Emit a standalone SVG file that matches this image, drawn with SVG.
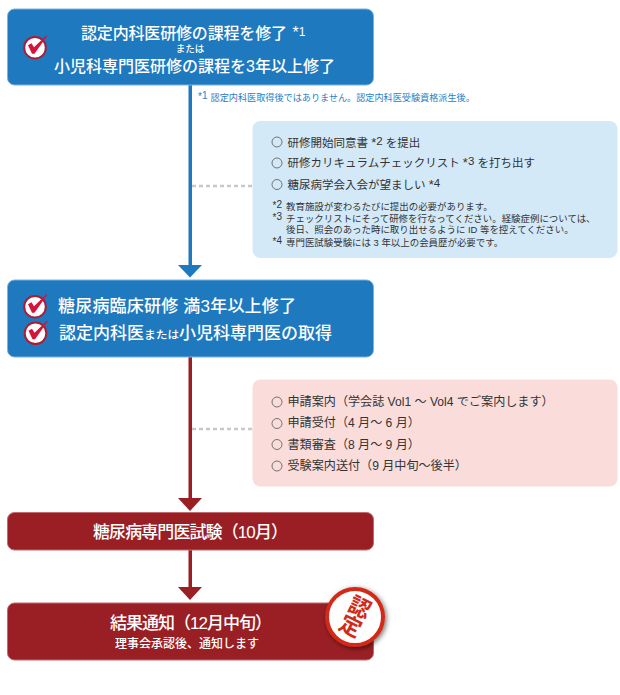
<svg xmlns="http://www.w3.org/2000/svg" width="620" height="695" viewBox="0 0 620 695">
<style>
text{font-family:"Liberation Sans","Noto Sans CJK JP",sans-serif;}
.w{fill:#fff;font-weight:500;font-size:17px;}
.d{fill:#333;font-size:11.5px;}
.n{fill:#333;font-size:9.45px;}
.s{fill:#333;font-size:10px;}
.p{fill:#333;font-size:12.1px;}
.c{fill:none;stroke:#555;stroke-width:.8;}
.blue{fill:#1e79bf;stroke:#7db3dc;stroke-width:1;}
.red{fill:#9a1f25;stroke:#c06a6e;stroke-width:1;}
</style>
<defs>
<filter id="sh" x="-30%" y="-30%" width="170%" height="170%"><feDropShadow dx="1.500" dy="1.500" stdDeviation="2.500" flood-color="#000" flood-opacity=".55"/></filter>
<g id="chk">
<circle cx="0" cy="0" r="10.800" fill="#fff" stroke="#a81f35" stroke-width="2"/>
<path d="M-7 -2.500L-3.500 -4.500L-1 -.5L11.500 -12.500L12.300 -12L-.5 6L-3 6Z" fill="#d3143c"/>
</g>
</defs>
<g id="connectors">
<rect x="188.500" y="85" width="3.500" height="181" fill="#1e79bf"/>
<path d="M178 265H202L190 277.500Z" fill="#1e79bf"/>
<rect x="188.500" y="357" width="3.500" height="142" fill="#9a1f25"/>
<path d="M178 498H202L190 511Z" fill="#9a1f25"/>
<rect x="188.500" y="550" width="3.500" height="38" fill="#9a1f25"/>
<path d="M178 587H202L190 600Z" fill="#9a1f25"/>
<path d="M192 186H252M192 429H252" fill="none" stroke="#c8c8c8" stroke-width="2.500" stroke-dasharray="4 3"/>
</g>
<g id="node-1">
<rect class="blue" x="7.500" y="9" width="366" height="76" rx="7"/>
<use href="#chk" x="35" y="47.700"/>
<text class="w" x="81" y="38.500" style="font-size:16px" textLength="206">認定内科医研修の課程を修了</text>
<text class="w" x="292.500" y="38" style="font-size:16px">*<tspan style="font-size:12px" dy="-2.500">1</tspan></text>
<text class="w" x="190" y="52" text-anchor="middle" style="font-size:9.500px">または</text>
<text class="w" x="54" y="71.500" style="font-size:16px" textLength="281">小児科専門医研修の課程を3年以上修了</text>
</g>
<g id="note-1">
<text x="198" y="100" fill="#2a80c4" font-size="10">*<tspan dy="-1.500">1</tspan></text>
<text x="210.500" y="100.500" fill="#2a80c4" font-size="9.150">認定内科医取得後ではありません。認定内科医受験資格派生後。</text>
</g>
<g id="panel-1">
<rect x="252.500" y="121" width="365" height="137" rx="8" fill="#d3e9f8"/>
<circle class="c" cx="277" cy="142" r="5"/><circle class="c" cx="277" cy="163" r="5"/><circle class="c" cx="277" cy="184.500" r="5"/>
<text class="d" x="287.500" y="146.500">研修開始同意書 <tspan font-size="13">*</tspan><tspan font-size="11.500" dy="-2">2</tspan><tspan dy="2"> を提出</tspan></text>
<text class="d" x="287.500" y="167">研修カリキュラムチェックリスト <tspan font-size="13">*</tspan><tspan font-size="11.500" dy="-2">3</tspan><tspan dy="2"> を打ち出す</tspan></text>
<text class="d" x="287.500" y="188.500">糖尿病学会入会が望ましい <tspan font-size="13">*</tspan><tspan font-size="11.500" dy="-2">4</tspan></text>
<text class="s" x="272.500" y="209">*<tspan dy="-1">2</tspan></text>
<text class="n" x="286" y="210">教育施設が変わるたびに提出の必要があります。</text>
<text class="s" x="272.500" y="220.500">*<tspan dy="-1">3</tspan></text>
<text class="n" x="286" y="221.500">チェックリストにそって研修を行なってください。経験症例については、</text>
<text class="n" x="286" y="233">後日、照会のあった時に取り出せるように ID 等を控えてください。</text>
<text class="s" x="272.500" y="245">*<tspan dy="-1">4</tspan></text>
<text class="n" x="286" y="246">専門医試験受験には 3 年以上の会員歴が必要です。</text>
</g>
<g id="node-2">
<rect class="blue" x="7.500" y="280" width="366" height="77" rx="7"/>
<use href="#chk" x="35" y="306.700"/>
<use href="#chk" x="35.500" y="333.300"/>
<text class="w" x="58" y="312" textLength="238">糖尿病臨床研修 満3年以上修了</text>
<text class="w" x="59" y="339">認定内科医<tspan style="font-size:11.700px">または</tspan>小児科専門医の取得</text>
</g>
<g id="panel-2">
<rect x="252.500" y="379.500" width="365" height="107" rx="8" fill="#fadddb"/>
<circle class="c" cx="277" cy="402" r="5"/><circle class="c" cx="277" cy="423.500" r="5"/><circle class="c" cx="277" cy="444.500" r="5"/><circle class="c" cx="277" cy="466" r="5"/>
<text class="p" x="287.500" y="406">申請案内（学会誌 Vol1 ～ Vol4 でご案内します）</text>
<text class="p" x="287.500" y="427">申請受付（4 月～ 6 月）</text>
<text class="p" x="287.500" y="448.500">書類審査（8 月～ 9 月）</text>
<text class="p" x="287.500" y="470">受験案内送付（9 月中旬～後半）</text>
</g>
<g id="node-3">
<rect class="red" x="7.500" y="512.500" width="366" height="37.500" rx="7"/>
<text class="w" x="93" y="537.500" textLength="195">糖尿病専門医試験（10月）</text>
</g>
<g id="node-4">
<rect class="red" x="7.500" y="603" width="366" height="57" rx="7"/>
<text class="w" x="110" y="629" textLength="162">結果通知（12月中旬）</text>
<text class="w" x="115" y="648" style="font-size:12px">理事会承認後、通知します</text>
</g>
<g id="stamp">
<circle cx="355" cy="617" r="28" fill="#fff" stroke="#d22a18" stroke-width="4" filter="url(#sh)"/>
<g transform="rotate(26 355 617)" fill="#d22a18" font-weight="700" font-size="22" text-anchor="middle">
<text x="355" y="614">認</text>
<text x="355" y="635">定</text>
</g>
</g>
</svg>
